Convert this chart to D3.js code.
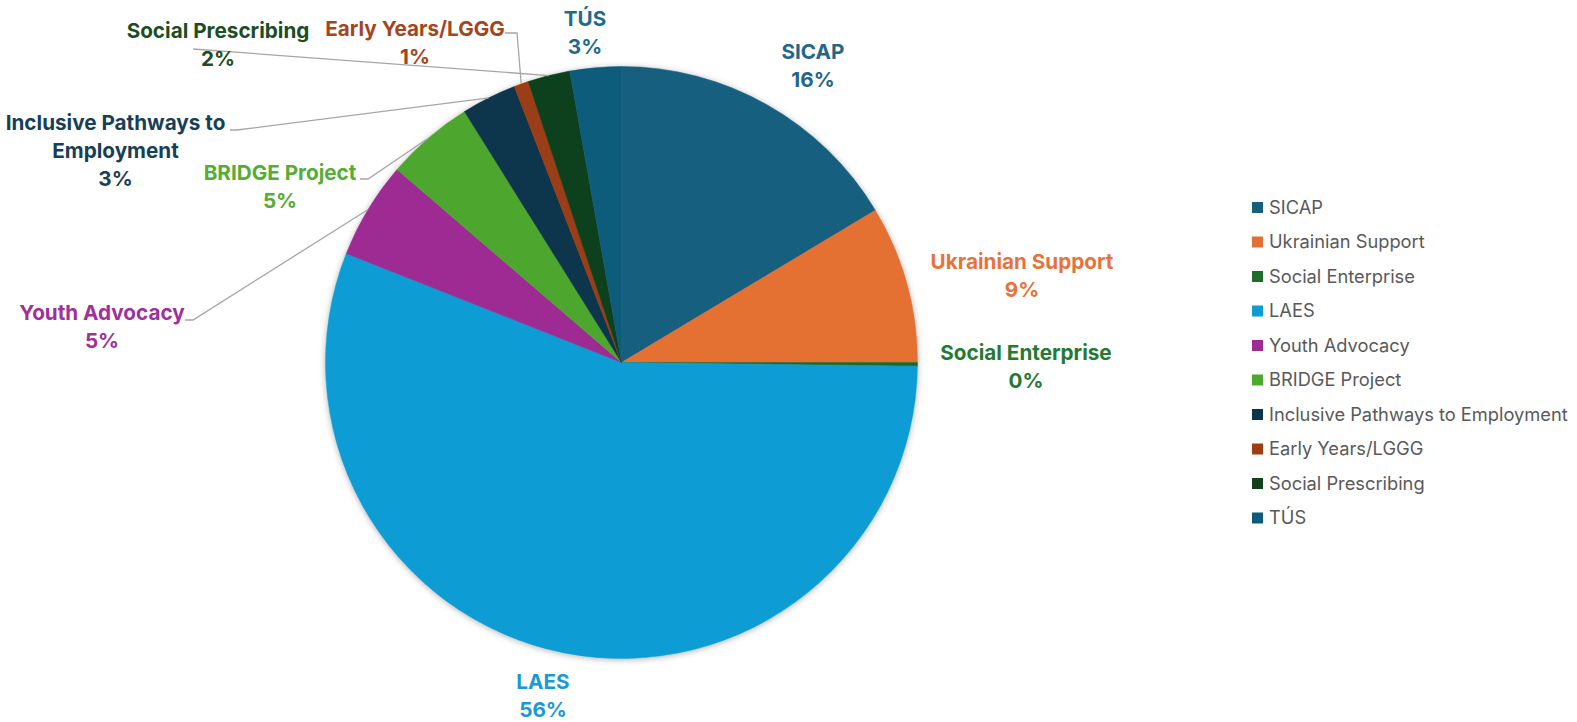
<!DOCTYPE html>
<html lang="en">
<head>
<meta charset="UTF-8">
<title>Programme share</title>
<script src="https://d3js.org/d3.v7.min.js"></script>
<style>
  body { margin: 0; background: #fff; }
  svg { display: block; }
</style>
</head>
<body>
<script>
  var width = 1577, height = 722;

  // data
  var categories = ['SICAP', 'Ukrainian Support', 'Social Enterprise', 'LAES', 'Youth Advocacy',
    'BRIDGE Project', 'Inclusive Pathways to Employment', 'Early Years/LGGG', 'Social Prescribing', 'TÚS'];
  var shares = [16.4, 8.6, 0.2, 55.8, 5.3, 4.8, 3.0, 0.8, 2.3, 2.8];
  var colors = ['#175e7e', '#e46f33', '#1e6b2a', '#109cd3', '#9e2a93',
    '#4ea72e', '#0c344c', '#9b3e12', '#11401a', '#0b5b7b'];
  var textColors = ['#23668a', '#e8733a', '#237a32', '#1a9ad4', '#a0309a',
    '#55ad34', '#173f57', '#a3461b', '#1c4d24', '#1d6a8b'];

  // label layout: centre x, y of first line, wrapped lines, leader start [x, y, elbow x]
  var labelPos = [
    { x: 813, y: 52, lines: ['SICAP'] },
    { x: 1022, y: 262, lines: ['Ukrainian Support'] },
    { x: 1026, y: 353, lines: ['Social Enterprise'] },
    { x: 543, y: 682, lines: ['LAES'] },
    { x: 102, y: 313, lines: ['Youth Advocacy'], leader: [185, 320, 193] },
    { x: 280, y: 173, lines: ['BRIDGE Project'], leader: [360, 179, 368] },
    { x: 115.5, y: 123, lines: ['Inclusive Pathways to', 'Employment'], leader: [230, 130, 237] },
    { x: 415, y: 28.5, lines: ['Early Years/LGGG'], leader: [505, 33, 517] },
    { x: 218, y: 30.5, lines: ['Social Prescribing'], leader: [193, 49, 193] },
    { x: 585, y: 19, lines: ['TÚS'] }
  ];

  var cx = 621.5, cy = 362.5, radius = 296;
  var lineH = 27.8;

  var svg = d3.select('body').append('svg').attr('width', width).attr('height', height);

  var defs = svg.append('defs');
  var f = defs.append('filter').attr('id', 'shadow').attr('x', '-10%').attr('y', '-10%')
    .attr('width', '120%').attr('height', '120%');
  f.append('feDropShadow').attr('dx', 0).attr('dy', 1).attr('stdDeviation', 3)
    .attr('flood-color', '#000').attr('flood-opacity', 0.3);

  var pie = d3.pie().sort(null).value(function (d) { return d; });
  var arcs = pie(shares);
  var total = d3.sum(shares);
  var arc = d3.arc().innerRadius(0).outerRadius(radius);

  var g = svg.append('g').attr('transform', 'translate(' + cx + ',' + cy + ')');

  g.append('g').attr('filter', 'url(#shadow)')
    .selectAll('path').data(arcs).join('path')
    .attr('d', arc)
    .attr('fill', function (d, i) { return colors[i]; })
    .attr('stroke', function (d, i) { return colors[i]; })
    .attr('stroke-width', 0.5);

  // leader lines: short horizontal stub, then straight to the slice edge
  var leaders = svg.append('g').attr('fill', 'none').attr('stroke', '#a6a6a6').attr('stroke-width', 1.3);
  arcs.forEach(function (d, i) {
    var lp = labelPos[i];
    if (!lp.leader) return;
    var a = (d.startAngle + d.endAngle) / 2;
    var ex = cx + Math.sin(a) * radius, ey = cy - Math.cos(a) * radius;
    var pts = [[lp.leader[0], lp.leader[1]], [lp.leader[2], lp.leader[1]], [ex, ey]];
    leaders.append('path').attr('d', d3.line()(pts));
  });

  // labels
  var labels = svg.append('g')
    .attr('font-family', 'Inter, "Open Sans", sans-serif')
    .attr('font-weight', 700)
    .attr('font-size', 20.7)
    .attr('text-anchor', 'middle');
  arcs.forEach(function (d, i) {
    var lp = labelPos[i];
    var t = labels.append('text').attr('fill', textColors[i]);
    var rows = lp.lines.concat([Math.round(d.value / total * 100) + '%']);
    rows.forEach(function (r, k) {
      t.append('tspan').attr('x', lp.x).attr('y', lp.y + k * lineH).attr('dy', '0.35em').text(r);
    });
  });

  // legend
  var legend = svg.append('g').attr('transform', 'translate(1252,207.5)')
    .attr('font-family', 'Inter, "Open Sans", sans-serif').attr('font-size', 18.3).attr('fill', '#595959');
  var rows = legend.selectAll('g').data(categories).join('g')
    .attr('transform', function (d, i) { return 'translate(0,' + i * 34.5 + ')'; });
  rows.append('rect').attr('x', 0).attr('y', -5.5).attr('width', 11).attr('height', 11)
    .attr('fill', function (d, i) { return colors[i]; });
  rows.append('text').attr('x', 17).attr('dy', '0.35em').text(function (d) { return d; });

  console.log('ready..');
</script>
</body>
</html>
